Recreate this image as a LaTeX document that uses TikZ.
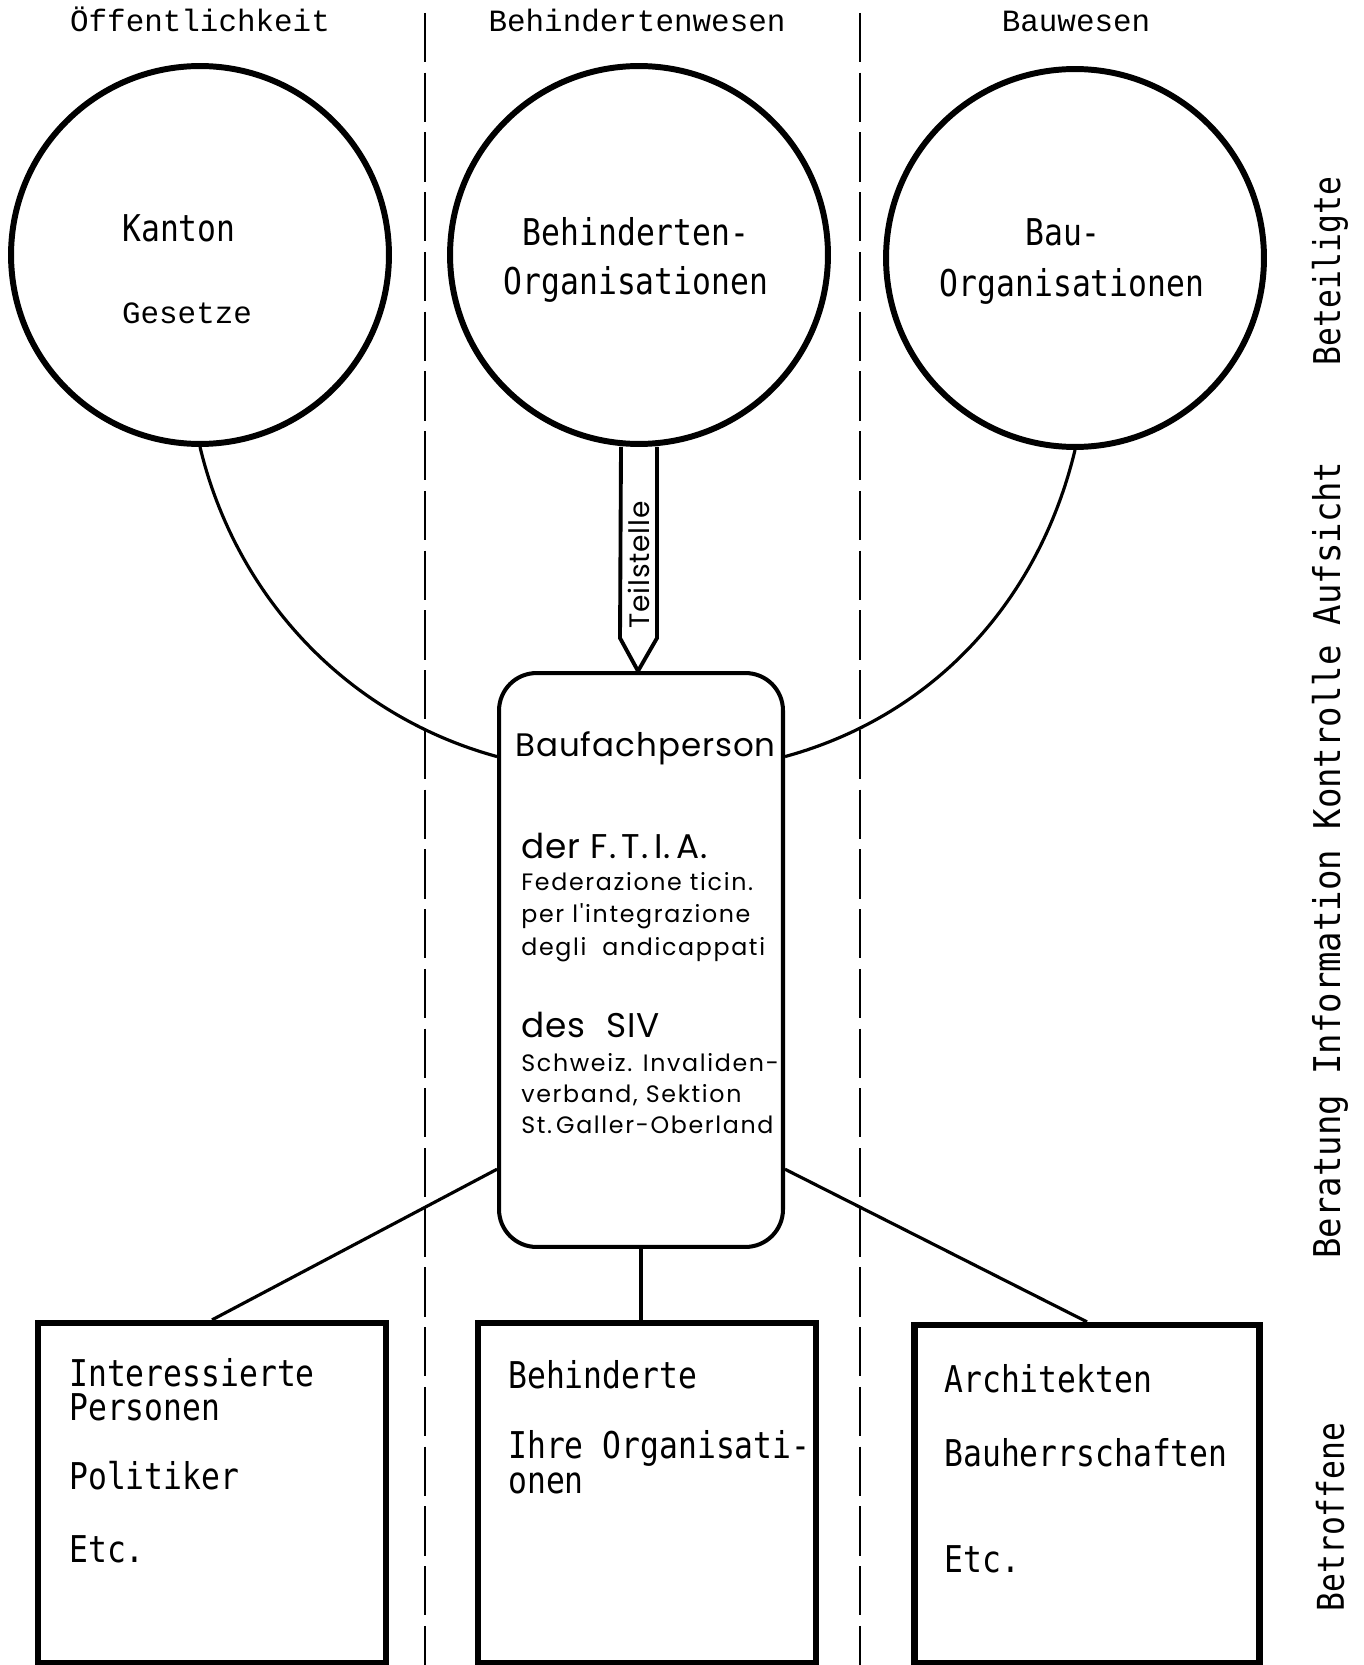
\documentclass[tikz,border=0pt]{standalone}
\usepackage{fontspec}
\usetikzlibrary{calc}
\newfontfamily\plotfont[FakeStretch=0.85]{DejaVu Sans Mono}
\newfontfamily\plotwide[FakeStretch=0.92]{DejaVu Sans Mono}
\newfontfamily\typefont{Liberation Mono}
\newfontfamily\roundfont[LetterSpace=3]{Poppins}
\newfontfamily\roundsmall[LetterSpace=7]{Poppins}
\begin{document}
\begin{tikzpicture}[x=0.02cm,y=-0.02cm,
  circ/.style={circle,draw,line width=3.4pt,minimum size=7.56cm,inner sep=0pt},
  lowbox/.style={rectangle,draw,line width=3.6pt,inner sep=0pt},
  centerbox/.style={rectangle,draw,line width=2.3pt,rounded corners=0.75cm,minimum width=5.68cm,minimum height=11.48cm,inner sep=0pt},
  conn/.style={line width=1.8pt},
  sepline/.style={line width=1.1pt,dash pattern=on 28pt off 6pt},
  arrowbody/.style={line width=2.2pt,line join=miter},
  plot/.style={font=\plotfont\fontsize{21}{24}\selectfont,inner sep=0pt,anchor=base west},
  plotc/.style={plot,anchor=base},
  typew/.style={font=\typefont\fontsize{17.6}{20}\selectfont,inner sep=0pt,anchor=base},
  rbig/.style={font=\roundfont\fontsize{19.5}{22}\selectfont,inner sep=0pt,anchor=base west},
  rsmall/.style={font=\roundsmall\fontsize{13.5}{16}\selectfont,inner sep=0pt,anchor=base west},
  side/.style={font=\plotfont\fontsize{21}{24}\selectfont,inner sep=0pt,anchor=center,rotate=90}
]
\fill[white] (0,0) rectangle (1364,1665);
\useasboundingbox (0,0) rectangle (1364,1665);

% separators
\draw[sepline] (425,13) -- (425,1665);
\draw[sepline] (860,13) -- (860,1665);

% headings
\node[typew] (h1) at (200,32) {Öffentlichkeit};
\node[typew] (h2) at (637,32) {Behindertenwesen};
\node[typew] (h3) at (1076,32) {Bauwesen};

% circles
\node[circ] (kan) at (200,255) {};
\node[circ] (bo) at (639,255) {};
\node[circ] (bau) at (1075,258) {};

\node[plotc] (kt) at (179,242) {Kanton};
\node[typew] (gs) at (187,324) {Gesetze};
\node[plotc] (bo1) at (636,246) {Behinderten-};
\node[plotc] (bo2) at (636,295) {Organisationen};
\node[plotc] (ba1) at (1063,246) {Bau-};
\node[plotc] (ba2) at (1072,297) {Organisationen};

% central box
\node[centerbox] (bfp) at (641,960) {};
\node[rbig,font=\roundfont\fontsize{18.5}{22}\selectfont] (t1) at (515,756) {Baufachperson};
\node[rbig] (t2) at (521,858) {der F.\,T.\,I.\,A.};
\node[rsmall] (t3) at (521,890) {Federazione ticin.};
\node[rsmall] (t4) at (521,922) {per l'integrazione};
\node[rsmall] (t5) at (521,955) {degli\ \ andicappati};
\node[rbig] (t6) at (521,1037) {des\ \ SIV};
\node[rsmall] (t7) at (521,1071) {Schweiz. Invaliden-};
\node[rsmall] (t8) at (521,1102) {verband, Sektion};
\node[rsmall] (t9) at (521,1133) {St.\,Galler-Oberland};

% Teilstelle arrow
\draw[arrowbody] ($(bo.south)+(-18,0)$) -- ($(bfp.north)+(-21,-33)$) -- ($(bfp.north)+(-3,0)$) -- ($(bfp.north)+(16,-33)$) -- ($(bo.south)+(18,0)$);
\node[font=\roundfont\fontsize{16}{18}\selectfont,inner sep=0pt,rotate=90] (ts) at (639,565) {Teilstelle};

% arcs
\draw[conn] (kan.south) .. controls +(36,150) and +(-150,-41) .. ($(bfp.north west)!0.148!(bfp.south west)$);
\draw[conn] (bau.south) .. controls +(-36,150) and +(150,-41) .. ($(bfp.north east)!0.148!(bfp.south east)$);

% bottom boxes
\node[lowbox,minimum width=6.96cm,minimum height=6.8cm] (lb) at (212,1493) {};
\node[lowbox,minimum width=6.76cm,minimum height=6.8cm] (mb) at (647,1493) {};
\node[lowbox,minimum width=6.9cm,minimum height=6.76cm] (rb) at (1087,1494) {};

\draw[conn] ($(bfp.north west)!0.862!(bfp.south west)$) -- (lb.north);
\draw[conn] (bfp.south) -- (bfp.south |- mb.north);
\draw[conn] ($(bfp.north east)!0.862!(bfp.south east)$) -- (rb.north);

\node[plot] (l1) at (69,1386) {Interessierte};
\node[plot] (l2) at (69,1420) {Personen};
\node[plot] (l3) at (69,1489) {Politiker};
\node[plot] (l4) at (69,1562) {Etc.};
\node[plot] (m1) at (508,1388) {Behinderte};
\node[plot] (m2) at (508,1458) {Ihre Organisati-};
\node[plot] (m3) at (508,1493) {onen};
\node[plot] (r1) at (944,1392) {Architekten};
\node[plot] (r2) at (944,1466) {Bauherrschaften};
\node[plot] (r3) at (944,1572) {Etc.};

% side labels
\node[side] (s1) at (1330,271) {Beteiligte};
\node[side,font=\plotwide\fontsize{21}{24}\selectfont] (s2) at (1330,860) {Beratung Information Kontrolle Aufsicht};
\node[side] (s3) at (1330,1517) {Betroffene};
\end{tikzpicture}
\end{document}
